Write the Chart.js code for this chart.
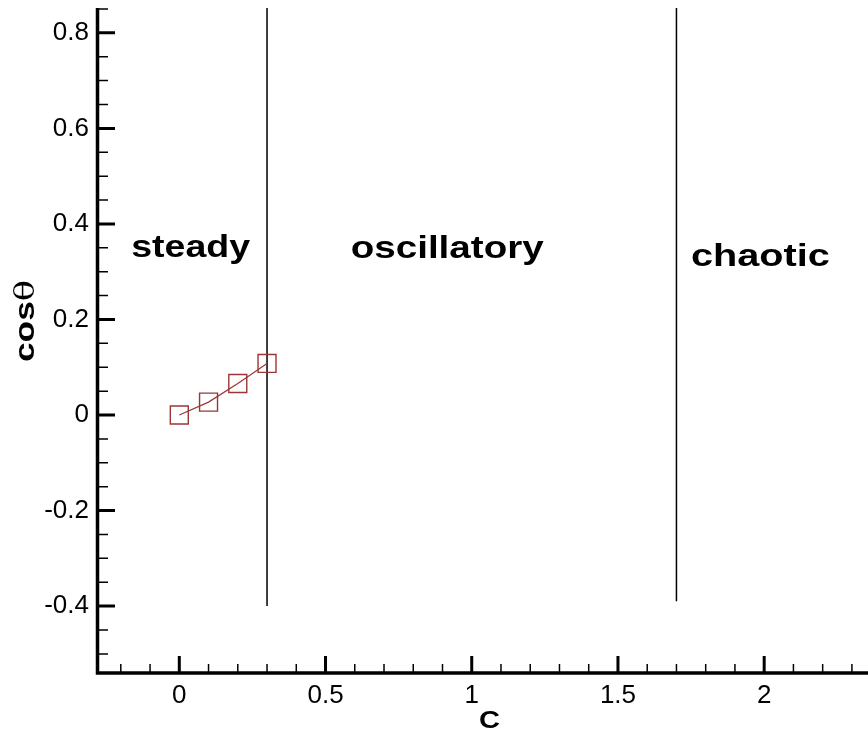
<!DOCTYPE html>
<html>
<head>
<meta charset="utf-8">
<script src="https://cdn.jsdelivr.net/npm/chart.js@4.4.1/dist/chart.umd.min.js"></script>
<style>
html,body{margin:0;padding:0;background:#fff;}
#wrap{width:868px;height:733px;position:relative;}
canvas{display:block;}
</style>
</head>
<body>
<div id="wrap"><canvas id="chart" width="868" height="733"></canvas></div>
<script>
// ---- data ----
const cValues = [0, 0.1, 0.2, 0.3];
const cosThetaValues = [0.000, 0.027, 0.066, 0.108];
const xTickValues = [0, 0.5, 1, 1.5, 2];
const yTickValues = [-0.4, -0.2, 0, 0.2, 0.4, 0.6, 0.8];
const boundaryC = [0.3, 1.7];
const boundaryTop = [0.852, 0.852];
const boundaryBottom = [-0.40, -0.39];
const regimeNames = ['steady', 'oscillatory', 'chaotic'];
const xTitle = 'C';
const yTitleMain = 'cos';
const yTitleSymbol = 'θ';

// ---- layout / style (not data) ----
const AXIS = { xMin: -0.278, xMax: 2.355, yMin: -0.54, yMax: 0.852 };
const regimeLayout = [
  { c: 0.039, y: 0.331, w: 119 },
  { c: 0.916, y: 0.329, w: 193 },
  { c: 1.987, y: 0.311, w: 139 }
];
const SERIES_COLOR = '#9a3636';

function stretchedText(ctx, text, cx, by, font, targetW) {
  ctx.save();
  ctx.font = font;
  const w = ctx.measureText(text).width;
  const s = targetW / w;
  ctx.translate(cx, by);
  ctx.scale(s, 1);
  ctx.textAlign = 'center';
  ctx.textBaseline = 'alphabetic';
  ctx.fillStyle = '#000';
  ctx.fillText(text, 0, 0);
  ctx.restore();
}

function zeroPad(s) { s.paddingTop = 0; s.paddingBottom = 0; s.paddingLeft = 0; s.paddingRight = 0; }

const decorPlugin = {
  id: 'decor',
  afterDraw(chart) {
    const ctx = chart.ctx;
    const xs = chart.scales.x, ys = chart.scales.y;
    const a = chart.chartArea;
    ctx.save();
    ctx.strokeStyle = '#000';
    ctx.lineCap = 'butt';
    // minor ticks
    ctx.lineWidth = 1.5;
    ctx.beginPath();
    for (let i = -2; i <= 23; i++) {
      const v = i / 10;
      if (i % 5 === 0) continue;
      const px = xs.getPixelForValue(v);
      if (px < a.left || px > a.right) continue;
      ctx.moveTo(px, a.bottom); ctx.lineTo(px, a.bottom - 9);
    }
    for (let i = -10; i <= 17; i++) {
      const v = i / 20;
      if (i % 4 === 0) continue;
      const py = ys.getPixelForValue(v);
      if (py < a.top - 1 || py > a.bottom) continue;
      ctx.moveTo(a.left, py); ctx.lineTo(a.left + 10, py);
    }
    ctx.stroke();
    // major ticks
    ctx.lineWidth = 3;
    ctx.beginPath();
    xTickValues.forEach(v => {
      const px = xs.getPixelForValue(v);
      ctx.moveTo(px, a.bottom); ctx.lineTo(px, a.bottom - 17);
    });
    yTickValues.forEach(v => {
      const py = ys.getPixelForValue(v);
      ctx.moveTo(a.left, py); ctx.lineTo(a.left + 17, py);
    });
    ctx.stroke();
    // axis lines
    ctx.lineWidth = 3.5;
    ctx.beginPath();
    ctx.moveTo(a.left - 0.5, a.top);
    ctx.lineTo(a.left - 0.5, a.bottom);
    ctx.moveTo(a.left - 2.25, a.bottom);
    ctx.lineTo(a.right, a.bottom);
    ctx.stroke();
    ctx.restore();

    // regime labels
    regimeNames.forEach((name, i) => {
      const L = regimeLayout[i];
      stretchedText(ctx, name, xs.getPixelForValue(L.c), ys.getPixelForValue(L.y),
        'bold 31px "Liberation Sans", Arial, sans-serif', L.w);
    });

    // x title
    stretchedText(ctx, xTitle, 489.5, 727.5, 'bold 23px "Liberation Sans", Arial, sans-serif', 21);

    // y title (rotated)
    ctx.save();
    ctx.translate(34, 321);
    ctx.rotate(-Math.PI / 2);
    const f1 = 'bold 28px "Liberation Sans", Arial, sans-serif';
    const f2 = '28px "DejaVu Serif", "Liberation Serif", serif';
    ctx.font = f1; const w1 = ctx.measureText(yTitleMain).width;
    ctx.font = f2; const w2 = ctx.measureText(yTitleSymbol).width;
    const s = 82 / (w1 + w2);
    ctx.scale(s, 1);
    ctx.fillStyle = '#000';
    ctx.textBaseline = 'alphabetic';
    ctx.textAlign = 'left';
    const start = -(w1 + w2) / 2;
    ctx.font = f1; ctx.fillText(yTitleMain, start, 0);
    ctx.font = f2; ctx.fillText(yTitleSymbol, start + w1, 0);
    ctx.restore();
  }
};

const seriesData = cValues.map((c, i) => ({ x: c, y: cosThetaValues[i] }));
const boundaryDatasets = boundaryC.map((c, i) => ({
  data: [{ x: c, y: boundaryTop[i] }, { x: c, y: boundaryBottom[i] }],
  borderColor: '#000',
  borderWidth: 1.5,
  pointRadius: 0,
  fill: false
}));

new Chart(document.getElementById('chart'), {
  type: 'line',
  data: {
    datasets: [
      {
        data: seriesData,
        borderColor: SERIES_COLOR,
        borderWidth: 1.2,
        pointStyle: 'rect',
        pointRadius: 12.7,
        pointBorderWidth: 1.4,
        pointBorderColor: SERIES_COLOR,
        pointBackgroundColor: 'rgba(0,0,0,0)',
        tension: 0,
        fill: false,
        clip: false
      },
      ...boundaryDatasets
    ]
  },
  options: {
    responsive: false,
    animation: false,
    events: [],
    layout: { autoPadding: false, padding: { top: 8, left: 0, right: 0, bottom: 0 } },
    plugins: { legend: { display: false }, tooltip: { enabled: false }, title: { display: false } },
    scales: {
      x: {
        type: 'linear',
        min: AXIS.xMin, max: AXIS.xMax,
        grid: { display: false, drawTicks: false },
        border: { display: false },
        afterBuildTicks: s => { s.ticks = xTickValues.map(v => ({ value: v })); },
        afterFit: s => { s.height = 60; zeroPad(s); },
        ticks: {
          font: { family: '"Liberation Sans", Arial, sans-serif', size: 26 },
          color: '#000', padding: 7, maxRotation: 0, minRotation: 0, autoSkip: false,
          callback: v => String(v)
        }
      },
      y: {
        type: 'linear',
        min: AXIS.yMin, max: AXIS.yMax,
        grid: { display: false, drawTicks: false },
        border: { display: false },
        afterBuildTicks: s => { s.ticks = yTickValues.map(v => ({ value: v })); },
        afterFit: s => { s.width = 98; zeroPad(s); },
        ticks: {
          font: { family: '"Liberation Sans", Arial, sans-serif', size: 26 },
          color: '#000', padding: 9, autoSkip: false,
          callback: v => String(v)
        }
      }
    }
  },
  plugins: [decorPlugin]
});
</script>
</body>
</html>
